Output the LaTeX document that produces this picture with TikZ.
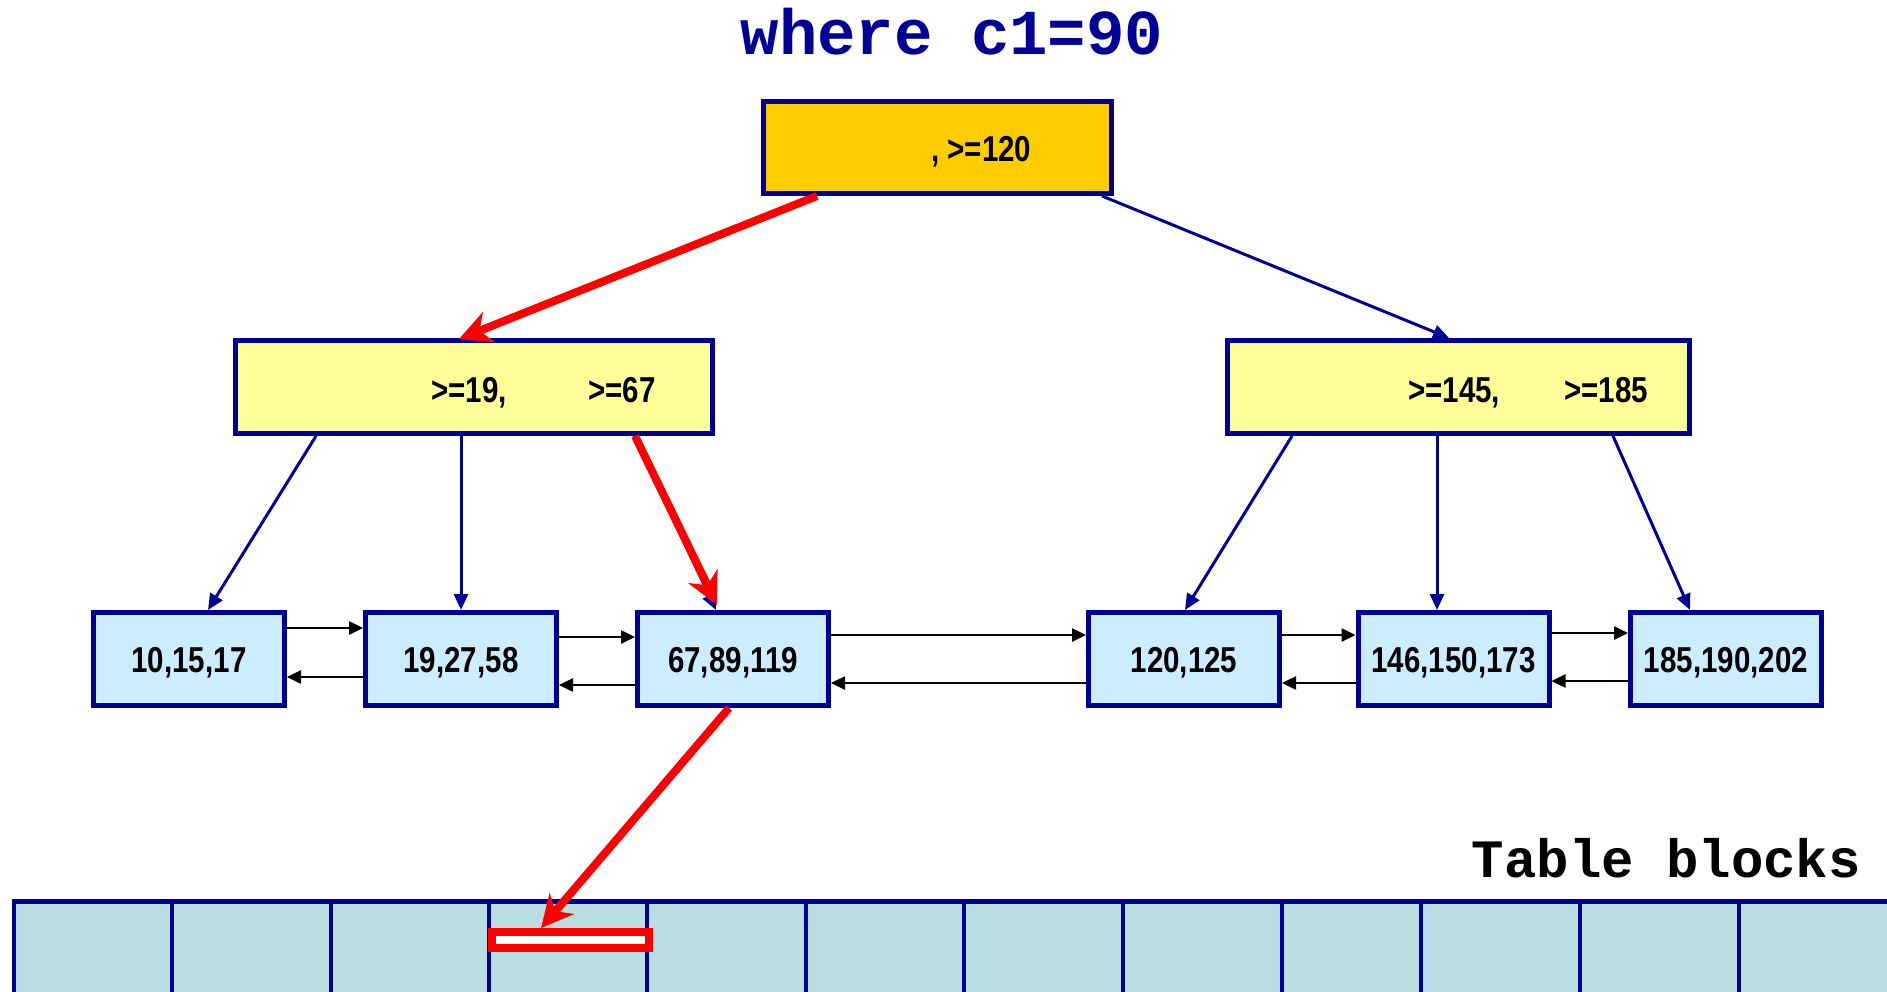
\documentclass[tikz,border=0pt]{standalone}
\usepackage{fontspec}
\newfontfamily\numfont[FakeStretch=0.82]{Liberation Sans}
\newfontfamily\codefont{Liberation Mono}
\usetikzlibrary{arrows.meta}
\definecolor{navy}{HTML}{000099}
\definecolor{rootgold}{HTML}{FFCC00}
\definecolor{midyellow}{HTML}{FFFF99}
\definecolor{leafblue}{HTML}{CCECFF}
\definecolor{blockteal}{HTML}{B9DFE3}
\tikzset{
  keyfont/.style={font=\numfont\bfseries\fontsize{36}{40}\selectfont},
  box/.style={draw=navy, line width=5pt, inner sep=0pt, keyfont},
  rootbox/.style={box, fill=rootgold, minimum width=348pt, minimum height=92pt},
  midbox/.style={box, fill=midyellow, minimum height=93pt},
  leafbox/.style={box, fill=leafblue, minimum width=191pt, minimum height=93pt,
                  text height=27pt, text depth=0pt},
  keytext/.style={inner sep=0pt, anchor=base west, keyfont},
  treeedge/.style={draw=navy, line width=3pt, -{Triangle[length=16pt,width=14pt]}},
  hitpath/.style={draw=red, line width=8pt, -{Stealth[length=32pt,width=32pt,inset=10pt]}},
  leaflink/.style={draw=black, line width=2.5pt, -{Triangle[length=14pt,width=13pt]}},
}
\begin{document}
\begin{tikzpicture}[x=1pt, y=-1pt]
\useasboundingbox (0,0) rectangle (1887,992);

% query title
\node[anchor=base, inner sep=0pt, text=navy,
      font=\codefont\bfseries\fontsize{64}{68}\selectfont] (title) at (952,55) {where c1=90};

% table blocks along the bottom
\begin{scope}
  \clip (0,0) rectangle (1887,992);
  \fill[blockteal] (13.5,901) rectangle (1900,1000);
  \foreach \x in {172,331,489,647,806,964,1123,1282,1421,1580,1739}
    \draw[navy, line width=4pt] (\x,901) -- (\x,1000);
  \draw[navy, line width=4pt] (13.5,1000) -- (13.5,901);
  \draw[navy, line width=5pt] (11.5,901) -- (1900,901);
\end{scope}
\node[anchor=base east, inner sep=0pt,
      font=\codefont\bfseries\fontsize{54}{58}\selectfont] (tbl) at (1861,877) {Table blocks};

% highlighted row inside a block
\node[draw=red, fill=white, line width=8pt, inner sep=0pt,
      minimum width=157pt, minimum height=16pt] (hit) at (570.5,940) {};

% B-tree nodes
\node[rootbox] (root) at (937.5,147.5) {};
\node[midbox, minimum width=477pt] (ml) at (474,387) {};
\node[midbox, minimum width=462pt] (mr) at (1458.5,387) {};

\node[leafbox] (l1) at (189,659) {10,15,17};
\node[leafbox] (l2) at (461,659) {19,27,58};
\node[leafbox] (l3) at (733,659) {67,89,119};
\node[leafbox] (l4) at (1184,659) {120,125};
\node[leafbox] (l5) at (1453.5,659) {146,150,173};
\node[leafbox] (l6) at (1726,659) {185,190,202};

% separator keys
\node[keytext] (rk)  at (931,162) {, >=120};
\node[keytext] (mk1) at (431,402) {>=19,};
\node[keytext] (mk2) at (588,402) {>=67};
\node[keytext] (mk3) at (1408,402) {>=145,};
\node[keytext] (mk4) at (1564,402) {>=185};

% tree pointers
\draw[treeedge] (root.south -| 816,0) -- (ml.north -| 461,0);
\draw[treeedge] (root.south -| 1102,0) -- (mr.north -| 1449,0);
\draw[treeedge] (ml.south -| 316,0) -- (l1.north -| 208,0);
\draw[treeedge] (ml.south -| 461,0) -- (l2.north -| 461,0);
\draw[treeedge] (ml.south -| 634,0) -- (l3.north -| 716,0);
\draw[treeedge] (mr.south -| 1292,0) -- (l4.north -| 1185,0);
\draw[treeedge] (mr.south -| 1437,0) -- (l5.north -| 1437,0);
\draw[treeedge] (mr.south -| 1613,0) -- (l6.north -| 1690,0);

% leaf chain
\draw[leaflink] (l1.east |- 0,628) -- (l2.west |- 0,628);
\draw[leaflink] (l2.west |- 0,677) -- (l1.east |- 0,677);
\draw[leaflink] (l2.east |- 0,637) -- (l3.west |- 0,637);
\draw[leaflink] (l3.west |- 0,685) -- (l2.east |- 0,685);
\draw[leaflink] (l3.east |- 0,635) -- (l4.west |- 0,635);
\draw[leaflink] (l4.west |- 0,683) -- (l3.east |- 0,683);
\draw[leaflink] (l4.east |- 0,635) -- (l5.west |- 0,635);
\draw[leaflink] (l5.west |- 0,683) -- (l4.east |- 0,683);
\draw[leaflink] (l5.east |- 0,633) -- (l6.west |- 0,633);
\draw[leaflink] (l6.west |- 0,681) -- (l5.east |- 0,681);

% search path for c1=90
\draw[hitpath] (root.south -| 817,0) -- (459,339);
\draw[hitpath] (ml.south -| 635,0) -- (717,605);
\draw[hitpath] (l3.south -| 729,0) -- (hit.north -| 541,0);
\end{tikzpicture}
\end{document}
